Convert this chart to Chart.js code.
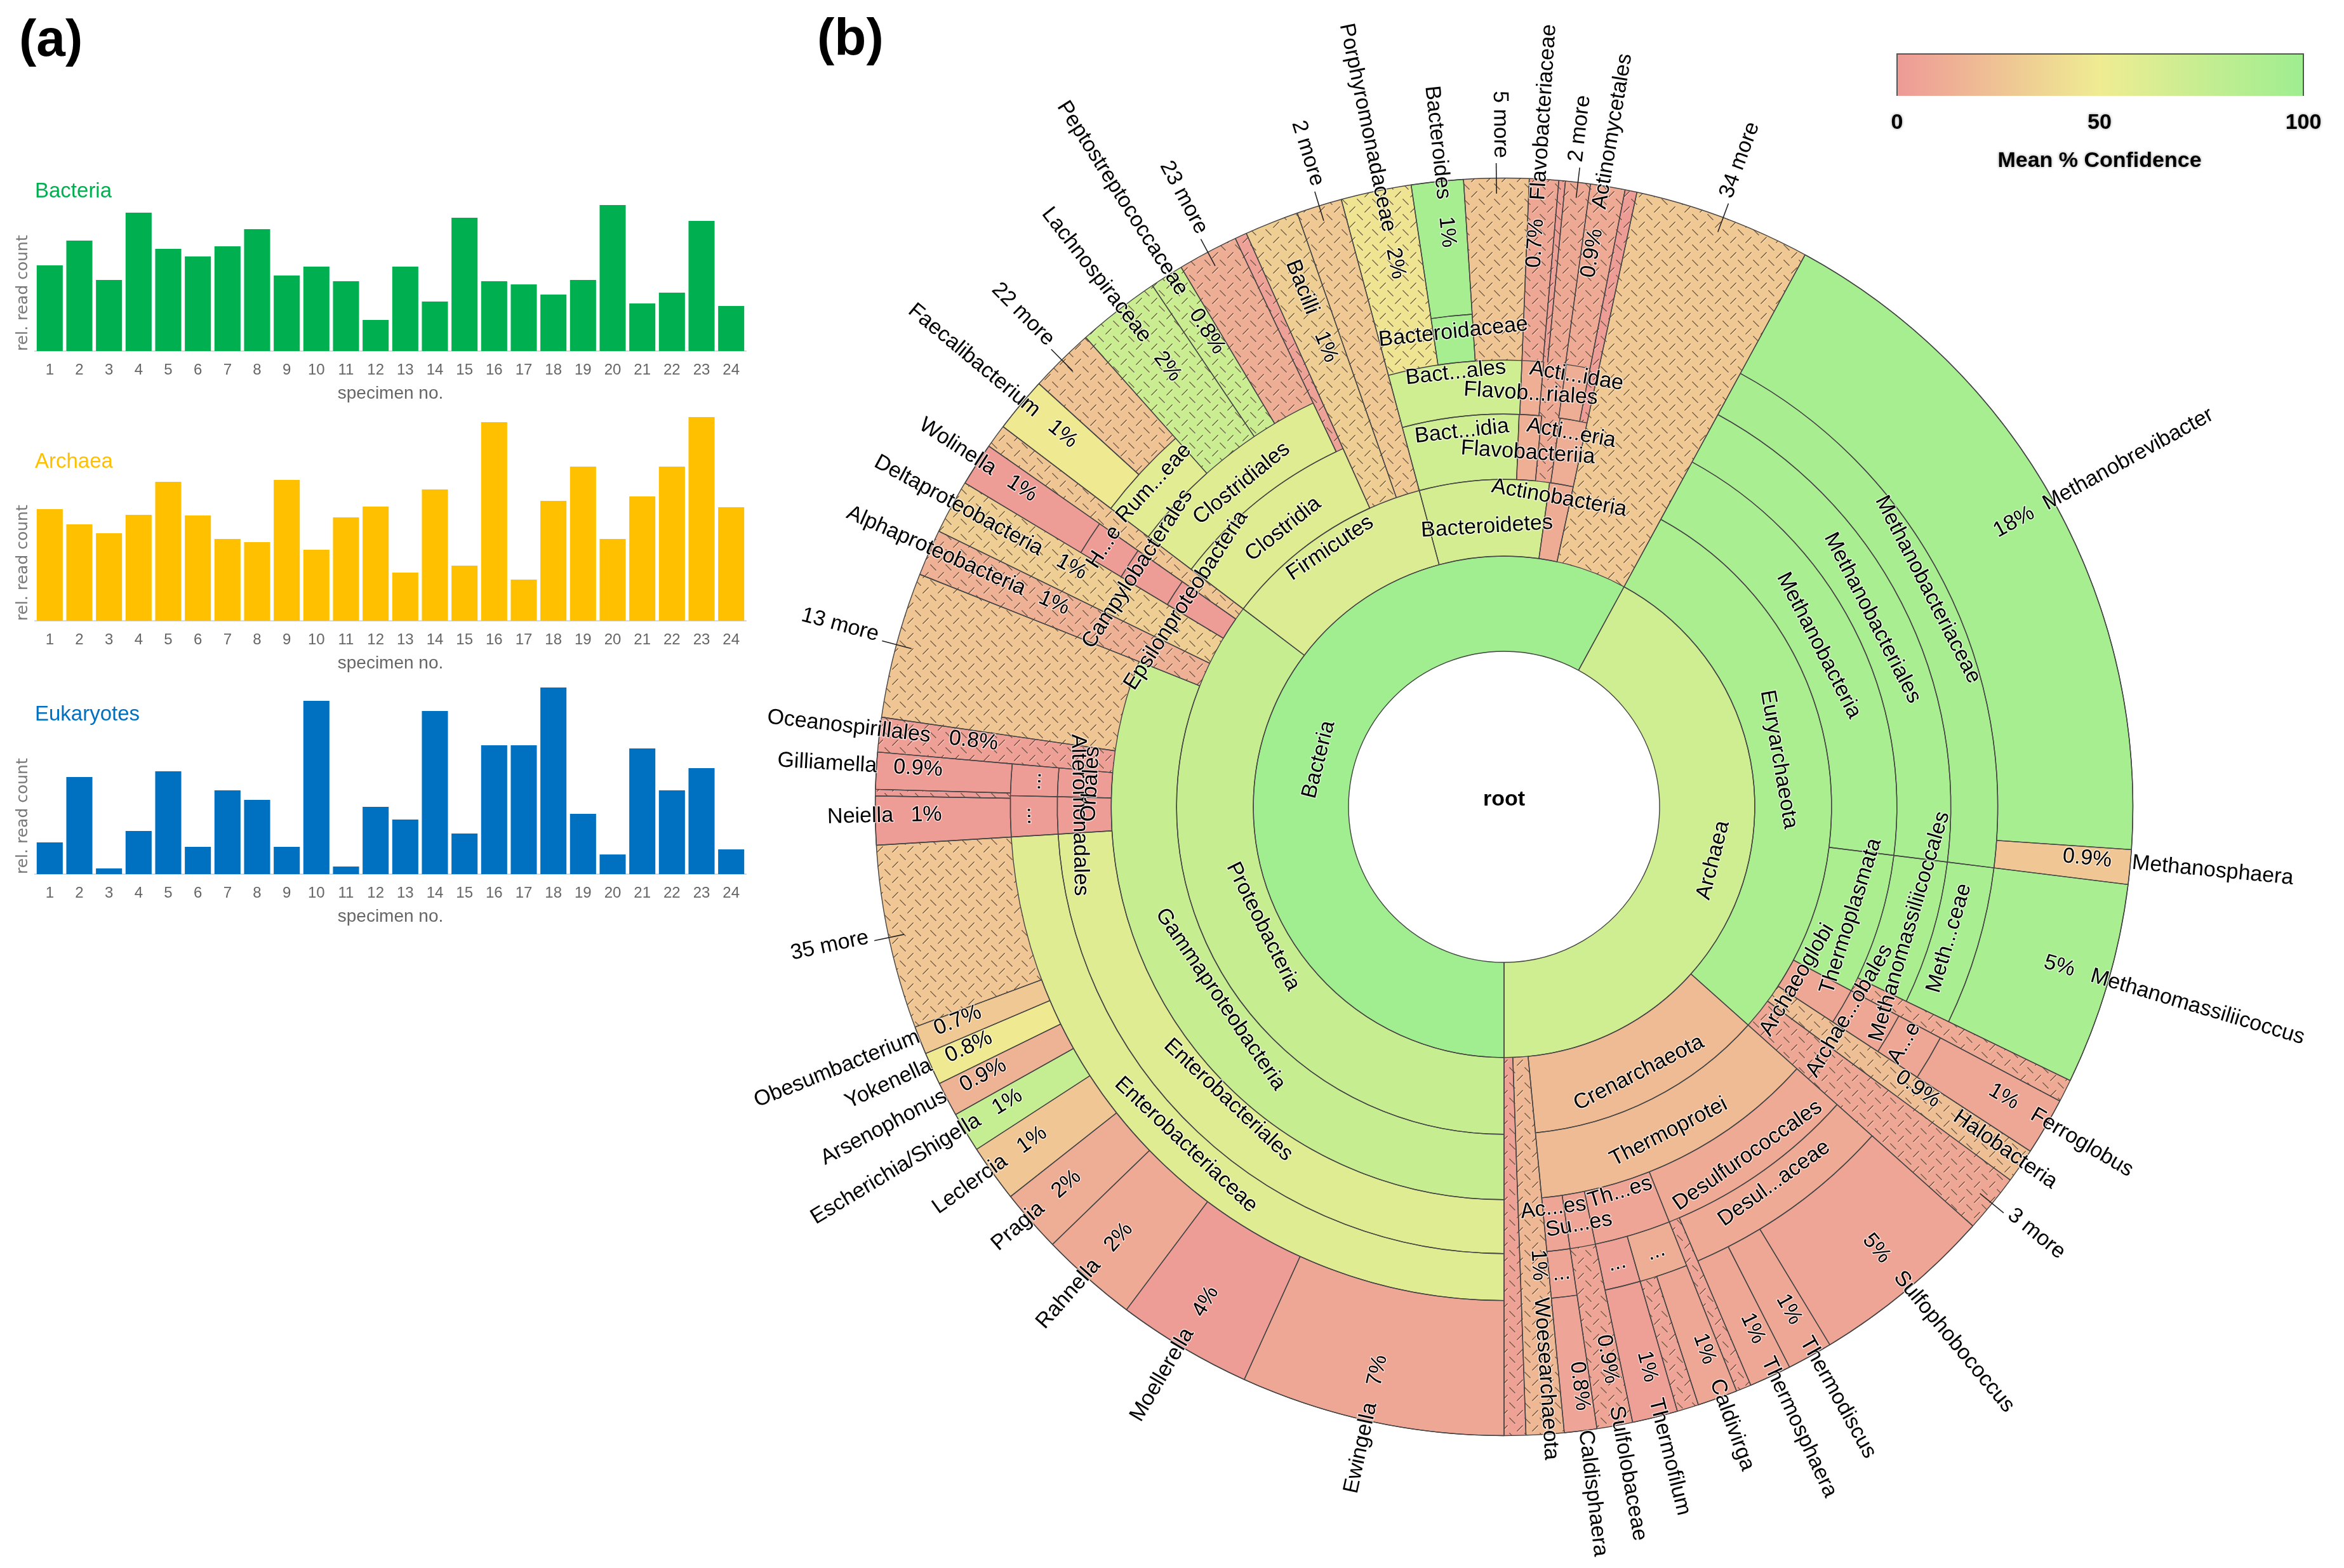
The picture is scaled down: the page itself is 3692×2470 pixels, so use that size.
<!DOCTYPE html>
<html>
<head>
<meta charset="utf-8">
<title>Taxonomic composition</title>
<script src="https://cdn.jsdelivr.net/npm/chart.js@4"></script>
<style>
  html, body { margin: 0; background: #fff; }
  body { position: relative; width: 3692px; height: 2470px; overflow: hidden; font-family: "Liberation Sans", sans-serif; }
  canvas { position: absolute; left: 0; }
  .panel { position: absolute; font-weight: bold; font-size: 82px; line-height: 82px; color: #000; }
  #bar { position: absolute; left: 2987px; top: 84px; width: 642px; height: 67px; box-sizing: border-box;
         border: 2px solid #555; border-bottom: 0;
         background: linear-gradient(90deg, #EE9A96, #EFEC92 50%, #9EEE90); }
  .key { position: absolute; font-weight: bold; font-size: 34px; line-height: 34px; transform: translate(-50%, -50%); color: #000;
         text-shadow: 0 0 4px #999; white-space: nowrap; }
</style>
</head>
<body>
<canvas id="sunburst" width="3692" height="2470" style="top:0"></canvas>
<canvas id="bacteria" width="1240" height="370" style="top:270px"></canvas>
<canvas id="archaea" width="1240" height="415" style="top:650px"></canvas>
<canvas id="eukaryotes" width="1240" height="389" style="top:1075px"></canvas>

<div class="panel" style="left:30px;top:19px">(a)</div>
<div class="panel" style="left:1287px;top:17px">(b)</div>
<div id="bar"></div>
<div class="key" style="left:2988px;top:191px">0</div>
<div class="key" style="left:3307px;top:191px">50</div>
<div class="key" style="left:3628px;top:191px">100</div>
<div class="key" style="left:3307px;top:251px">Mean % Confidence</div>

<script>
// ── PANEL (a) DATA ───────────────────────────────────────
const specimens = ['1','2','3','4','5','6','7','8','9','10','11','12','13','14','15','16','17','18','19','20','21','22','23','24'];
const bacteriaCounts = [135,174,112,218,161,149,165,192,119,133,110,49,133,78,210,110,105,89,112,230,75,92,205,71];
const archaeaCounts = [176,152,138,167,219,166,129,124,222,112,163,180,76,207,87,313,65,189,243,129,196,243,321,179];
const eukaryoteCounts = [50,153,9,68,162,43,132,117,43,273,12,106,86,257,64,203,203,294,95,31,198,132,167,39];

// ── PANEL (b) DATA ───────────────────────────────────────
// every ring runs clockwise from the bottom. shares are parts of 360,
// conf is mean % confidence, more = 1 for the hatched (collapsed) slices
const ring1Labels = ['Bacteria','Archaea'];
const ring1Shares = [208.6,151.4];
const ring1Conf   = [98,70];
const ring1More   = [0,0];

const ring2Labels = ['Proteobacteria','Firmicutes','Bacteroidetes','Actinobacteria','','Euryarchaeota','Crenarchaeota','',''];
const ring2Shares = [127.2,37.8,23,4.2,16.4,103.2,42.7,3.5,2];
const ring2Conf   = [75,62,66,11,28,92,20,18,5];
const ring2More   = [0,0,0,0,1,0,0,1,1];

const ring3Labels = ['Gammaproteobacteria','','','Epsilonproteobacteria','','Clostridia','','','Bact...idia','Flavobacteriia','','Acti...eria','','Methanobacteria','Thermoplasmata','Archaeoglobi','','','Thermoprotei','',''];
const ring3Shares = [111.7,4.3,5,4,2.2,28.6,5,4.2,17.2,3.3,2.7,4,16.4,68.5,20.8,5.3,3.2,5.4,42.7,3.5,2];
const ring3Conf   = [75,14,32,1,26,60,32,28,70,13,9,12,28,93,92,8,22,8,20,18,5];
const ring3More   = [0,1,1,0,1,0,1,1,0,0,1,0,1,0,0,0,1,1,0,1,1];

const ring4Labels = ['Enterobacteriales','Alteromonadales','Orbales','','','','','Campylobacterales','','Clostridiales','','','','Bact...ales','Flavob...riales','','Acti...idae','','','Methanobacteriales','Methanomassiliicoccales','','Archae...obales','','','Desulfurococcales','Th...es','Su...es','Ac...es','',''];
const ring4Shares = [86.5,4.8,3.7,3.2,13.5,4.3,5,4,2.2,27.5,1.1,5,4.2,17.3,2.8,2.9,3.1,1.1,16.4,68.5,18.7,2.1,5.3,3.2,5.4,26.5,9.9,3.3,3,3.5,2];
const ring4Conf   = [60,1,1,3,26,14,32,1,26,60,4,32,28,70,13,9,12,2,28,93,92,10,8,22,8,10,7,7,7,18,5];
const ring4More   = [0,0,0,1,1,1,1,0,1,0,1,1,1,0,0,1,0,1,1,0,0,1,0,1,1,0,0,0,0,1,1];

const ring5Labels = ['Enterobacteriaceae','...','...','','','','','H...e','','Rum...eae','','','','','','','','Bacteroidaceae','','','','','','','','Methanobacteriaceae','Meth...ceae','','A...e','','','Desul...aceae','','...','...','','...','',''];
const ring5Shares = [86.5,4.8,3.7,3.2,13.5,4.3,5,4,2.2,11.1,7.7,3.1,5.6,1.1,5,4.2,6.5,4.8,6,2.7,0.6,2.3,3.2,1.1,16.4,68.5,18.7,2.1,5.3,3.2,5.4,25.1,1.4,5.7,4.2,3.3,3,3.5,2];
const ring5Conf   = [60,1,1,3,26,14,32,1,26,58,72,72,12,4,32,28,45,95,26,8,3,9,10,2,28,94,93,10,8,22,8,10,6,12,4,7,7,18,5];
const ring5More   = [0,0,0,1,1,1,1,0,1,0,1,1,1,1,1,1,1,0,1,1,1,1,1,1,1,0,0,1,0,1,1,0,1,0,0,1,0,1,1];

const ring6Labels = ['Ewingella','Moellerella','Rahnella','Pragia','Leclercia','Escherichia/Shigella','Arsenophonus','Yokenella','Obesumbacterium','35 more','Neiella','','Gilliamella','Oceanospirillales','13 more','Alphaproteobacteria','Deltaproteobacteria','Wolinella','','Faecalibacterium','22 more','Lachnospiraceae','Peptostreptococcaceae','23 more','','Bacilli','2 more','Porphyromonadaceae','Bacteroides','5 more','Flavobacteriaceae','','2 more','Actinomycetales','','34 more','Methanobrevibacter','Methanosphaera','Methanomassiliicoccus','','Ferroglobus','Halobacteria','3 more','Sulfophobococcus','Thermodiscus','Thermosphaera','','Caldivirga','','Thermofilum','Sulfolobaceae','Caldisphaera','Woesearchaeota',''];
const ring6Percent = ['7%','4%','2%','2%','1%','1%','0.9%','0.8%','0.7%','','1%','','0.9%','0.8%','','1%','1%','1%','','1%','','2%','0.8%','','','1%','','2%','1%','','0.7%','','','0.9%','','','18%','0.9%','5%','','1%','0.9%','','5%','1%','1%','','1%','','1%','0.9%','0.8%','1%',''];
const ring6Shares = [24.4,12.5,9,5.8,5.3,3.7,3.2,3,2.6,17,4.5,0.6,3.4,3.2,13.5,4.3,5,4,2.2,5.1,6,7.7,3.1,5.6,1.1,5,4.2,6.5,4.8,6,2.7,0.6,2.3,3.2,1.1,16.4,65.3,3.2,18.7,2.1,5.3,3.2,5.4,17,4.2,3.9,1.4,3.7,2,4.2,3.3,3,3.5,2];
const ring6Conf   = [8,2,10,12,27,76,15,49,28,27,1,0,1,3,26,14,32,1,26,48,25,72,72,12,4,32,28,45,95,26,8,3,9,10,2,28,95,27,93,10,8,22,8,7,8,8,6,8,6,3,7,6,18,5];
const ring6More   = [0,0,0,0,0,0,0,0,0,1,0,1,0,1,1,1,1,0,1,0,1,1,1,1,1,1,1,1,0,1,1,1,1,1,1,1,0,0,0,1,0,1,1,0,0,0,1,0,1,0,1,0,1,1];

// ── LAYOUT / STYLE ───────────────────────────────────────
const FONT = '"Liberation Sans", sans-serif';
const CX = 2369, CY = 1271, OUTER = 991, HOLE = 245;
const LABEL_SIZE = 34;
const RADIAL_LIFT = 7;   // outer ring text sits a little above its radius

// radial distance of the ring 6 names and percentages where it differs from the default
const NAME_R = { Oceanospirillales:910, Gilliamella:990, Obesumbacterium:990, Yokenella:990, Arsenophonus:990,
  Methanosphaera:993, Caldisphaera:990, Lachnospiraceae:926, Porphyromonadaceae:924, Peptostreptococcaceae:954,
  Bacilli:834, Deltaproteobacteria:833, Alphaproteobacteria:829, Flavobacteriaceae:957, Actinomycetales:954,
  Sulfolobaceae:960, Halobacteria:861, Woesearchaeota:775, Methanobrevibacter:975 };
const PCT_R = { Oceanospirillales:842, Gilliamella:925, Obesumbacterium:924, Yokenella:924, Arsenophonus:923,
  Methanosphaera:922, Caldisphaera:920, Lachnospiraceae:873, Porphyromonadaceae:873, Peptostreptococcaceae:883,
  Bacilli:777, Deltaproteobacteria:779, Alphaproteobacteria:778, Flavobacteriaceae:889, Actinomycetales:883,
  Sulfolobaceae:885, Halobacteria:789, Woesearchaeota:724, Methanobrevibacter:920 };
// radius of the inner ring labels (they sit as straight chords)
const RING_LABEL_R = { Bacteria:301, Archaea:340, Proteobacteria:424, Firmicutes:491, Bacteroidetes:442, Actinobacteria:494,
  Euryarchaeota:439, Crenarchaeota:470, Gammaproteobacteria:540, Epsilonproteobacteria:597, Clostridia:559,
  'Bact...idia':595, Flavobacteriia:559, 'Acti...eria':598, Methanobacteria:557, Thermoplasmata:573, Archaeoglobi:536,
  Thermoprotei:574, Enterobacteriales:634, Alteromonadales:669, Orbales:652, Campylobacterales:688, Clostridiales:656,
  'Bact...ales':688, 'Flavob...riales':652, 'Acti...idae':688, Methanobacteriales:652, Methanomassiliicoccales:666,
  'Archae...obales':632, Desulfurococcales:670, 'Th...es':634, 'Su...es':669, 'Ac...es':637, Enterobacteriaceae:731,
  'H...e':751, 'Rum...eae':751, Bacteroidaceae:752, Methanobacteriaceae:750, 'Meth...ceae':731, 'A...e':732, 'Desul...aceae':730 };

Chart.defaults.font.family = FONT;

// ── COLOUR SCALE ─────────────────────────────────────────
const C0 = [238,154,150], C50 = [239,236,146], C100 = [158,238,144];
function confColor(c) {
  const [a, b, t] = c < 50 ? [C0, C50, c / 50] : [C50, C100, (c - 50) / 50];
  return `rgb(${a.map((v, i) => Math.round(v + (b[i] - v) * t)).join(',')})`;
}

// ── HATCH PATTERN ────────────────────────────────────────
// diamond plate: each dash points at the middle of its neighbour
const _patterns = {};
function hatch(color) {
  if (_patterns[color]) return _patterns[color];
  const size = 24, d = 4.6;
  const tile = document.createElement('canvas');
  tile.width = tile.height = size;
  const g = tile.getContext('2d');
  g.fillStyle = color;
  g.fillRect(0, 0, size, size);
  const dash = (cx, cy, s, style, off) => {
    g.strokeStyle = style;
    g.beginPath();
    g.moveTo(cx - d + off, cy - d * s + off);
    g.lineTo(cx + d + off, cy + d * s + off);
    g.stroke();
  };
  g.lineWidth = 1.3;
  [['rgba(255,255,255,0.4)', 1], ['rgba(70,50,30,0.85)', 0]].forEach(([style, off]) => {
    dash(size * 0.25, size * 0.25, 1, style, off);
    dash(size * 0.75, size * 0.75, -1, style, off);
  });
  return (_patterns[color] = document.getElementById('sunburst').getContext('2d').createPattern(tile, 'repeat'));
}

// ── SUNBURST PLUGINS ─────────────────────────────────────
const sliceEdges = {
  id: 'sliceEdges',
  afterDatasetsDraw(chart) {
    const { ctx } = chart;
    ctx.save();
    ctx.strokeStyle = '#444';
    ctx.lineWidth = 1.4;
    chart.data.datasets.forEach((ds, d) => {
      chart.getDatasetMeta(d).data.forEach((arc, i) => {
        const { x, y, startAngle: s, endAngle: e, innerRadius: r0, outerRadius: r1 } = arc;
        ctx.beginPath();
        ctx.moveTo(x + r0 * Math.cos(s), y + r0 * Math.sin(s));
        ctx.lineTo(x + r1 * Math.cos(s), y + r1 * Math.sin(s));
        ctx.moveTo(x + r0 * Math.cos(e), y + r0 * Math.sin(e));
        ctx.lineTo(x + r1 * Math.cos(e), y + r1 * Math.sin(e));
        if (!ds.more[i]) {
          ctx.moveTo(x + r0 * Math.cos(s), y + r0 * Math.sin(s));
          ctx.arc(x, y, r0, s, e);
          ctx.moveTo(x + r1 * Math.cos(s), y + r1 * Math.sin(s));
          ctx.arc(x, y, r1, s, e);
        }
        ctx.stroke();
      });
    });
    const rim = chart.getDatasetMeta(0).data[0];
    ctx.beginPath();
    ctx.arc(rim.x, rim.y, rim.outerRadius, 0, Math.PI * 2);
    ctx.stroke();
    ctx.restore();
  },
};

function haloText(ctx, text, x, y) {
  ctx.strokeText(text, x, y);
  ctx.fillText(text, x, y);
}

const sliceLabels = {
  id: 'sliceLabels',
  afterDraw(chart) {
    const { ctx } = chart;
    ctx.save();
    ctx.font = `${LABEL_SIZE}px ${FONT}`;
    ctx.fillStyle = '#000';
    ctx.strokeStyle = 'rgba(255,255,255,0.65)';
    ctx.lineWidth = 3;
    ctx.lineJoin = 'round';
    ctx.textBaseline = 'middle';
    chart.data.datasets.forEach((ds, d) => {
      chart.getDatasetMeta(d).data.forEach((arc, i) => {
        const name = ds.names[i];
        if (!name) return;
        const a = (arc.startAngle + arc.endAngle) / 2;
        ctx.save();
        ctx.translate(arc.x, arc.y);
        if (d > 0) {
          // inner rings: straight text along the tangent, kept upright
          const r = RING_LABEL_R[name] || (arc.innerRadius + arc.outerRadius) / 2;
          ctx.translate(r * Math.cos(a), r * Math.sin(a));
          let rot = a + Math.PI / 2;
          while (rot > Math.PI / 2) rot -= Math.PI;
          while (rot <= -Math.PI / 2) rot += Math.PI;
          ctx.rotate(rot);
          ctx.textAlign = 'center';
          haloText(ctx, name, 0, 0);
        } else {
          // outer ring: radial text, reading outward on the right and inward on the left
          const right = Math.cos(a) >= 0;
          const sign = right ? 1 : -1;
          ctx.rotate(right ? a : a + Math.PI);
          const isMore = / more$/.test(name);
          if (isMore) {
            ctx.beginPath();
            ctx.moveTo(sign * 966, 0);
            ctx.lineTo(sign * 1014, 0);
            ctx.save();
            ctx.strokeStyle = '#222';
            ctx.lineWidth = 1.6;
            ctx.stroke();
            ctx.restore();
          }
          ctx.textAlign = right ? 'left' : 'right';
          haloText(ctx, name, sign * (isMore ? 1022 : NAME_R[name] || 962), -RADIAL_LIFT);
          if (ds.percent[i]) {
            ctx.textAlign = 'center';
            haloText(ctx, ds.percent[i], sign * (PCT_R[name] || 910), -RADIAL_LIFT);
          }
        }
        ctx.restore();
      });
    });
    ctx.font = `bold ${LABEL_SIZE}px ${FONT}`;
    ctx.textAlign = 'center';
    haloText(ctx, 'root', CX, CY - 11);
    ctx.restore();
  },
};

// ── SUNBURST ─────────────────────────────────────────────
function ring(names, shares, conf, more, weight, percent) {
  const fill = conf.map((c, i) => (more[i] ? hatch(confColor(c)) : confColor(c)));
  return {
    data: shares, names, more, percent, weight,
    backgroundColor: fill,
    borderColor: fill,
    borderWidth: 1,
  };
}

new Chart(document.getElementById('sunburst'), {
  type: 'doughnut',
  data: {
    labels: ring6Labels,
    datasets: [
      ring(ring6Labels, ring6Shares, ring6Conf, ring6More, 213, ring6Percent),
      ring(ring5Labels, ring5Shares, ring5Conf, ring5More, 74),
      ring(ring4Labels, ring4Shares, ring4Conf, ring4More, 85),
      ring(ring3Labels, ring3Shares, ring3Conf, ring3More, 103),
      ring(ring2Labels, ring2Shares, ring2Conf, ring2More, 121),
      ring(ring1Labels, ring1Shares, ring1Conf, ring1More, 150),
    ],
  },
  options: {
    responsive: false,
    animation: false,
    events: [],
    rotation: 180,
    cutout: HOLE,
    layout: { padding: { left: CX - OUTER, top: CY - OUTER, right: 3692 - CX - OUTER, bottom: 2470 - CY - OUTER } },
    plugins: { legend: { display: false }, tooltip: { enabled: false } },
  },
  plugins: [sliceEdges, sliceLabels],
});

// ── BAR PANELS ───────────────────────────────────────────
const panelTitle = {
  id: 'panelTitle',
  afterDraw(chart, args, opts) {
    const { ctx, chartArea } = chart;
    ctx.save();
    ctx.font = `33px ${FONT}`;
    ctx.fillStyle = opts.color;
    ctx.textBaseline = 'middle';
    ctx.fillText(opts.text, chartArea.left, opts.y);
    ctx.restore();
  },
};

function barPanel(id, values, color, title, titleY) {
  const canvas = document.getElementById(id);
  new Chart(canvas, {
    type: 'bar',
    data: {
      labels: specimens,
      datasets: [{ data: values, backgroundColor: color, categoryPercentage: 1, barPercentage: 0.88 }],
    },
    options: {
      responsive: false,
      animation: false,
      events: [],
      layout: { padding: { right: 65 } },
      scales: {
        x: {
          grid: { display: false, drawTicks: false },
          border: { color: '#d8d8d8', width: 2 },
          ticks: { color: '#666', font: { size: 24 }, padding: 16, autoSkip: false, maxRotation: 0 },
          title: { display: true, text: 'specimen no.', color: '#666', font: { size: 28 }, padding: { top: 0, bottom: 3 } },
          afterFit: (s) => { s.height = 87; },
        },
        y: {
          min: 0,
          max: canvas.height - 87,
          grid: { display: false, drawTicks: false },
          border: { display: false },
          ticks: { display: false },
          title: { display: true, text: 'rel. read count', align: 'start', color: '#777', font: { size: 25, family: '"DejaVu Sans", sans-serif' }, padding: { top: 21, bottom: 0 } },
          afterFit: (s) => { s.width = 55; },
        },
      },
      plugins: {
        legend: { display: false },
        tooltip: { enabled: false },
        panelTitle: { text: title, color, y: titleY },
      },
    },
    plugins: [panelTitle],
  });
}

barPanel('bacteria', bacteriaCounts, '#00B050', 'Bacteria', 32);
barPanel('archaea', archaeaCounts, '#FFC000', 'Archaea', 78);
barPanel('eukaryotes', eukaryoteCounts, '#0070C0', 'Eukaryotes', 51);
</script>
</body>
</html>
